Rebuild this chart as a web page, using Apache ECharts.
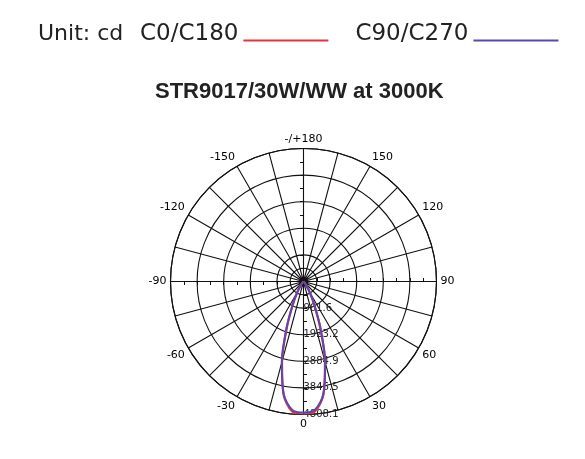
<!DOCTYPE html>
<html><head><meta charset="utf-8">
<script src="https://cdn.jsdelivr.net/npm/echarts@6/dist/echarts.min.js"></script>
<style>html,body{margin:0;padding:0;background:#fff}#c{width:585px;height:459px}</style>
</head><body><div id="c"></div>
<script>
// ---- data ----
const angles = [-90,-85,-80,-75,-70,-65,-60,-55,-50,-45,-40,-35,-30,-25,-20,-15,-10,-5,0,5,10,15,20,25,30,35,40,45,50,55,60,65,70,75,80,85,90];
const c0c180 = [0,0,0,0,0,0,2,5,10,30,80,200,450,900,1750,3000,4150,4720,4808.1,4720,4150,3000,1750,900,450,200,80,30,10,5,2,0,0,0,0,0,0];
const c90c270 = [0,0,0,0,0,0,2,5,12,32,85,210,460,920,1790,3030,4130,4660,4740,4660,4130,3030,1790,920,460,210,85,32,12,5,2,0,0,0,0,0,0];
const seriesNames = ['C0/C180','C90/C270'];
const angleTickLabels = [-180,-150,-120,-90,-60,-30,0,30,60,90,120,150];
const radiusTickLabels = ['961.6','1923.2','2884.9','3846.5','4808.1'];
const radiusMax = 4808.1;
const radiusStep = 961.62;
const radiusMinorStep = 480.81;

// ---- layout ----
const CENTER = [303.5, 281.5];
const R = 133;
const FONT = 'DejaVu Sans';
const GRID = {color: '#111', width: 1.1};

const polar = [{center: CENTER, radius: R}];
const angleAxis = [{
  polarIndex: 0, type: 'value', min: -180, max: 180, interval: 15,
  startAngle: 90, clockwise: false,
  axisLine: {show: true, lineStyle: GRID},
  axisTick: {show: false},
  splitLine: {show: true, lineStyle: GRID},
  axisLabel: {
    margin: 4, color: '#000', fontSize: 11, fontFamily: FONT,
    formatter: v => v === -180 ? '-/+180' : (angleTickLabels.indexOf(v) >= 0 ? String(v) : '')
  }
}];
const radiusAxis = [{
  polarIndex: 0, type: 'value', min: 0, max: radiusMax, interval: radiusStep,
  axisLine: {show: false}, axisTick: {show: false}, axisLabel: {show: false},
  splitLine: {show: true, lineStyle: GRID}
}];

// tick polars along the four main spokes (both sides of each line)
const dirs = [-90, 90, 0, 180];
dirs.forEach(d => {
  [false, true].forEach(inside => {
    const idx = polar.length;
    polar.push({center: CENTER, radius: R});
    angleAxis.push({polarIndex: idx, type: 'value', min: -180, max: 180, startAngle: d, clockwise: false, show: false});
    const withLabels = (d === -90 && !inside);
    radiusAxis.push({
      polarIndex: idx, type: 'value', min: 0, max: radiusMax, interval: radiusMinorStep,
      axisLine: {show: false},
      splitLine: {show: false},
      axisTick: {show: true, inside: inside, length: 3.5, lineStyle: {color: '#111', width: 1}},
      axisLabel: withLabels ? {
        show: true, margin: 0, color: '#222', fontSize: 10, fontFamily: FONT,
        formatter: (v, i) => (i > 0 && i % 2 === 0) ? (radiusTickLabels[i / 2 - 1] || '') : ''
      } : {show: false}
    });
  });
});
// innermost half-step circle
{
  const idx = polar.length;
  polar.push({center: CENTER, radius: R * radiusMinorStep / radiusMax});
  angleAxis.push({polarIndex: idx, type: 'value', min: -180, max: 180, startAngle: 90,
    axisLine: {show: true, lineStyle: GRID},
    axisTick: {show: false}, axisLabel: {show: false}, splitLine: {show: false}});
  radiusAxis.push({polarIndex: idx, type: 'value', min: 0, max: radiusMinorStep, show: false});
}

const colors = ['#e8333f', '#5b48b0'];
const chart = echarts.init(document.getElementById('c'));
chart.setOption({
  animation: false,
  backgroundColor: '#fff',
  color: colors,
  title: [
    {text: 'Unit: cd', left: 38, top: 23, padding: 0,
     textStyle: {fontSize: 22, fontWeight: 'normal', color: '#222', fontFamily: FONT}},
    {text: 'STR9017/30W/WW at 3000K', left: 155, top: 81, padding: 0,
     textStyle: {fontSize: 22, fontWeight: 'bold', color: '#222', fontFamily: 'Liberation Sans'}}
  ],
  legend: {
    data: seriesNames, left: 140, top: 23, padding: 0, align: 'right',
    itemWidth: 85, itemHeight: 16, itemGap: 27, symbolKeepAspect: false,
    icon: 'path://M0,0 M0,13 L85,13 L85,15 L0,15 Z M0,16',
    textStyle: {fontSize: 23, color: '#222', fontFamily: FONT}
  },
  polar, angleAxis, radiusAxis,
  series: [
    {name: seriesNames[0], type: 'line', coordinateSystem: 'polar', polarIndex: 0,
     data: angles.map((a, i) => [c0c180[i], a]), smooth: 0.3, symbol: 'none',
     lineStyle: {color: colors[0], width: 2.2}, itemStyle: {color: colors[0]}, z: 5},
    {name: seriesNames[1], type: 'line', coordinateSystem: 'polar', polarIndex: 0,
     data: angles.map((a, i) => [c90c270[i], a]), smooth: 0.3, symbol: 'none',
     lineStyle: {color: colors[1], width: 2}, itemStyle: {color: colors[1]}, z: 6}
  ]
});
</script>
</body></html>
